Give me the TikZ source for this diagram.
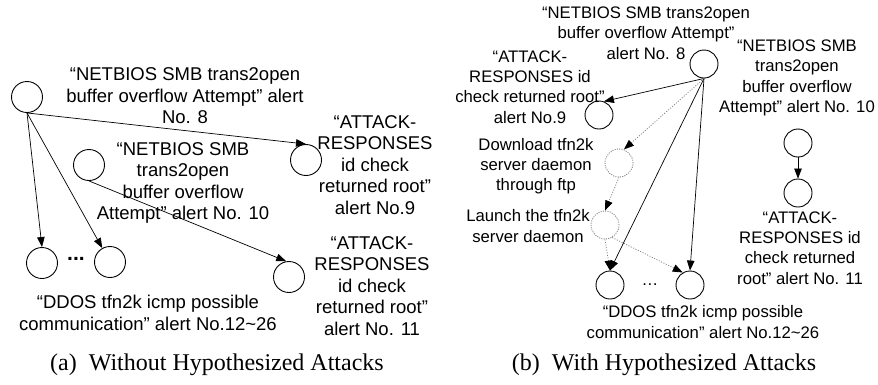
\documentclass[tikz,border=0pt]{standalone}
\usepackage{fontspec}
\setmainfont{Liberation Sans}
\newfontfamily\capfont{Liberation Serif}
\usetikzlibrary{arrows.meta}
\begin{document}
\begin{tikzpicture}[x=1pt,y=-1pt,
 cira/.style={circle, draw, line width=0.9pt, minimum size=31pt, inner sep=0pt},
 cirb/.style={circle, draw, line width=0.9pt, minimum size=28pt, inner sep=0pt},
 hyp/.style={cirb, draw=gray, dash pattern=on 1pt off 1.3pt},
 lbla/.style={align=center, font=\fontsize{18.5}{21.5}\selectfont, inner sep=0pt},
 lblb/.style={align=center, font=\fontsize{16.7}{20.3}\selectfont, inner sep=0pt},
 arr/.style={-{Triangle[length=10pt,width=7.5pt]}, line width=0.7pt},
 darr/.style={-{Triangle[length=10pt,width=7.5pt,color=black]}, draw=gray, line width=0.8pt, dash pattern=on 1pt off 1.6pt},
 captxt/.style={font=\capfont\fontsize{24}{28}\selectfont, inner sep=0pt}]
\useasboundingbox (0,0) rectangle (878,384);

% ---------- panel (a) ----------
\node[cira] (A8) at (27,97) {};
\node[cira] (A10) at (89,165) {};
\node[cira] (A9) at (306,160) {};
\node[cira] (A11) at (289,277) {};
\node[cira] (E1) at (42,263) {};
\node[cira] (E2) at (110,262) {};
\node[font=\fontsize{21}{24}\selectfont\bfseries, inner sep=0pt] (dotsa) at (76,259) {...};

\node[lbla] (L8a) at (185,96) {“NETBIOS SMB trans2open\\buffer overflow Attempt” alert\\No. 8};
\node[lbla] (L10a) at (183,183) {“NETBIOS SMB\\trans2open\\buffer overflow\\Attempt” alert No. 10};
\node[lbla] (L9a) at (375,165) {“ATTACK-\\RESPONSES\\id check\\returned root”\\alert No.9};
\node[lbla] (L11a) at (372,286) {“ATTACK-\\RESPONSES\\id check\\returned root”\\alert No. 11};
\node[lbla] (LDa) at (148,313) {“DDOS tfn2k icmp possible\\communication” alert No.12\textasciitilde 26};

\draw[arr] (A8.south) -- (A9.north);
\draw[arr] (A8.south) -- (E1.north);
\draw[arr] (A8.south) -- (E2);
\draw[arr] (A10.south) -- (A11.100);

\node[captxt] (capa) at (217,365) {(a)\hspace{0.5em}Without Hypothesized Attacks};

% ---------- panel (b) ----------
\node[cirb] (B8) at (704,64) {};
\node[cirb] (B9) at (599,115) {};
\node[hyp] (D) at (619,163) {};
\node[hyp] (L) at (605,225) {};
\node[cirb] (F1) at (610,285) {};
\node[cirb] (F2) at (690,285) {};
\node[font=\fontsize{16.7}{20.3}\selectfont, inner sep=0pt] (dotsb) at (650,285) {…};
\node[cirb] (B10) at (798,143) {};
\node[cirb] (B11) at (798,193) {};

\node[lblb] (L8b) at (646,33) {“NETBIOS SMB trans2open\\buffer overflow Attempt”\\alert No. 8};
\node[lblb] (L9b) at (530,87) {“ATTACK-\\RESPONSES id\\check returned root”\\alert No.9};
\node[lblb] (LDl) at (536,166) {Download tfn2k\\server daemon\\through ftp};
\node[lblb] (LLl) at (528,226) {Launch the tfn2k\\server daemon};
\node[lblb] (LDb) at (703,322) {“DDOS tfn2k icmp possible\\communication” alert No.12\textasciitilde 26};
\node[lblb] (L10b) at (797,78) {“NETBIOS SMB\\trans2open\\buffer overflow\\Attempt” alert No. 10};
\node[lblb] (L11b) at (800,248) {“ATTACK-\\RESPONSES id\\check returned\\root” alert No. 11};

\draw[arr] (B8.south) -- (B9.70);
\draw[arr] (B8.south) -- (F1.north);
\draw[arr] (B8.south) -- (F2.north);
\draw[darr] (B8.south) -- (D.70);
\draw[darr] (D.south) -- (L.north);
\draw[darr] (L.south) -- (F1.north);
\draw[darr] (L.300) -- (F2.120);
\draw[arr] (B10.south) -- (B11.north);

\node[captxt] (capb) at (664,365) {(b)\hspace{0.5em}With Hypothesized Attacks};
\end{tikzpicture}
\end{document}
